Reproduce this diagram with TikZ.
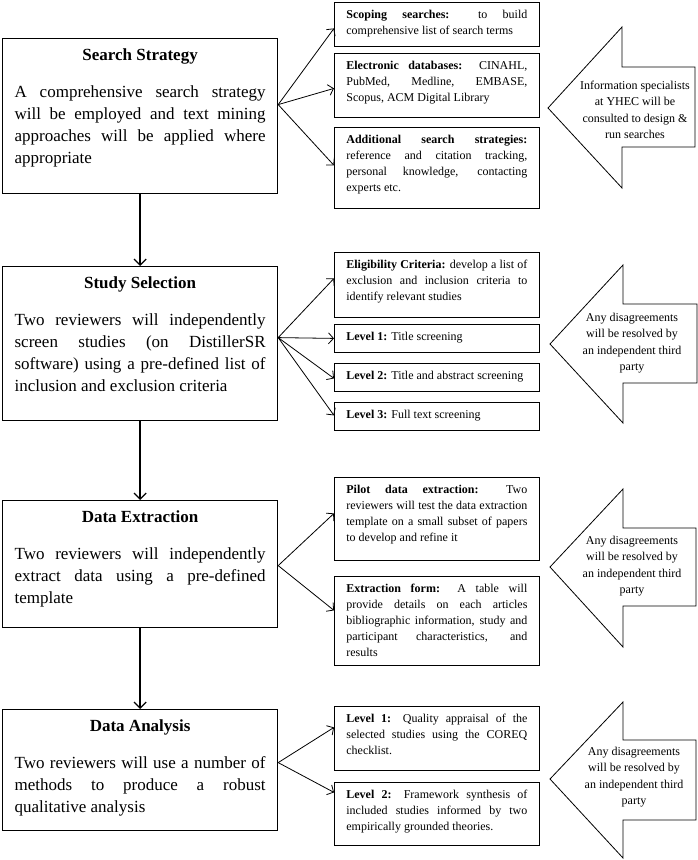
\documentclass[tikz,border=0pt]{standalone}
\usepackage{fontspec}
\setmainfont{Liberation Serif}
\usetikzlibrary{arrows.meta}

\newcommand{\stagetext}[3]{\parbox[t][#1][t]{251pt}{{\centering\strut\textbf{#2}\par}\vspace{15pt}#3}}
\newcommand{\detailtext}[2]{\parbox[t][#1][t]{181pt}{\strut #2}}

\tikzset{
  stage/.style={draw, line width=1.2pt, anchor=north west, inner xsep=12pt, inner ysep=6pt, font=\fontsize{17}{22}\selectfont},
  detail/.style={draw, line width=0.8pt, anchor=north west, inner xsep=12pt, inner ysep=5pt, font=\fontsize{12}{16}\selectfont},
  note/.style={align=center, font=\fontsize{12}{16.5}\selectfont},
  link/.style={-{Straight Barb[length=5pt,width=11pt]}, line width=0.8pt},
  flow/.style={-{Straight Barb[length=6pt,width=12pt]}, line width=1.3pt},
  bigarrow/.style={draw, line width=0.8pt}
}

\begin{document}
\begin{tikzpicture}[x=1pt,y=-1pt]
    \useasboundingbox (0,0) rectangle (698,860);

    % main stages
    \node[stage] (search) at (2,38) {\stagetext{143pt}{Search Strategy}{A comprehensive search strategy\linebreak will be employed and text mining\linebreak approaches will be applied where\linebreak appropriate}};
    \node[stage] (selection) at (2,266) {\stagetext{142pt}{Study Selection}{Two reviewers will independently\linebreak screen studies (on DistillerSR\linebreak software) using a pre-defined list of\linebreak inclusion and exclusion criteria}};
    \node[stage] (extraction) at (2,500) {\stagetext{115pt}{Data Extraction}{Two reviewers will independently\linebreak extract data using a pre-defined\linebreak template}};
    \node[stage] (analysis) at (2,709) {\stagetext{109pt}{Data Analysis}{Two reviewers will use a number of\linebreak methods to produce a robust\linebreak qualitative analysis}};

    \draw[flow] (search.south) -- (selection.north);
    \draw[flow] (selection.south) -- (extraction.north);
    \draw[flow] (extraction.south) -- (analysis.north);

    % search strategy details
    \node[detail] (scoping) at (334,2) {\detailtext{34pt}{\textbf{Scoping searches:} to build\linebreak comprehensive list of search terms}};
    \node[detail] (databases) at (334,53) {\detailtext{54pt}{\textbf{Electronic databases:} CINAHL,\linebreak PubMed, Medline, EMBASE,\linebreak Scopus, ACM Digital Library}};
    \node[detail] (additional) at (334,127) {\detailtext{71pt}{\textbf{Additional search strategies:}\linebreak reference and citation tracking,\linebreak personal knowledge, contacting\linebreak experts etc.}};

    \draw[link] ([yshift=11.5pt]search.east) -- ([yshift=-4pt]scoping.west);
    \draw[link] ([yshift=11.5pt]search.east) -- ([yshift=-3pt]databases.west);
    \draw[link] ([yshift=11.5pt]search.east) -- ([yshift=2.5pt]additional.west);

    % study selection details
    \node[detail] (eligibility) at (334,252) {\detailtext{55pt}{\textbf{Eligibility Criteria:} develop a list of\linebreak exclusion and inclusion criteria to\linebreak identify relevant studies}};
    \node[detail] (levelone) at (334,324) {\detailtext{18pt}{\textbf{Level 1:} Title screening}};
    \node[detail] (leveltwo) at (334,363) {\detailtext{18pt}{\textbf{Level 2:} Title and abstract screening}};
    \node[detail] (levelthree) at (334,402) {\detailtext{18pt}{\textbf{Level 3:} Full text screening}};

    \draw[link] ([yshift=6pt]selection.east) -- ([yshift=6.5pt]eligibility.west);
    \draw[link] ([yshift=6pt]selection.east) -- (levelone.west);
    \draw[link] ([yshift=6pt]selection.east) -- ([yshift=-1pt]leveltwo.west);
    \draw[link] ([yshift=6pt]selection.east) -- ([yshift=1pt]levelthree.west);

    % data extraction details
    \node[detail] (pilot) at (334,477) {\detailtext{73pt}{\textbf{Pilot data extraction:} Two\linebreak reviewers will test the data extraction\linebreak template on a small subset of papers\linebreak to develop and refine it}};
    \node[detail] (form) at (334,576) {\detailtext{79pt}{\textbf{Extraction form:} A table will\linebreak provide details on each articles\linebreak bibliographic information, study and\linebreak participant characteristics, and\linebreak results}};

    \draw[link] ([yshift=-1.5pt]extraction.east) -- ([yshift=5.5pt]pilot.west);
    \draw[link] ([yshift=-1.5pt]extraction.east) -- ([yshift=10.5pt]form.west);

    % data analysis details
    \node[detail] (quality) at (334,706) {\detailtext{54pt}{\textbf{Level 1:} Quality appraisal of the\linebreak selected studies using the COREQ\linebreak checklist.}};
    \node[detail] (synthesis) at (334,782) {\detailtext{53pt}{\textbf{Level 2:} Framework synthesis of\linebreak included studies informed by two\linebreak empirically grounded theories.}};

    \draw[link] ([yshift=7.5pt]analysis.east) -- ([yshift=11pt]quality.west);
    \draw[link] ([yshift=7.5pt]analysis.east) -- ([yshift=21.5pt]synthesis.west);

    % block arrows
    \draw[bigarrow] (548,108) -- (622,27) -- (622,67) -- (695,67) -- (695,147) -- (622,147) -- (622,188) -- cycle;
    \node[note] (specialists) at (635,110) {Information specialists\\at YHEC will be\\consulted to design \&\\run searches};

    \draw[bigarrow] (550,344) -- (623,265) -- (623,304) -- (697,304) -- (697,383) -- (623,383) -- (623,423) -- cycle;
    \node[note] (resolveselection) at (632,343) {Any disagreements\\will be resolved by\\an independent third\\party};

    \draw[bigarrow] (550,567) -- (623,489) -- (623,528) -- (696,528) -- (696,606) -- (623,606) -- (623,647) -- cycle;
    \node[note] (resolveextraction) at (632,566) {Any disagreements\\will be resolved by\\an independent third\\party};

    \draw[bigarrow] (550,779) -- (623,702) -- (623,740) -- (696,740) -- (696,820) -- (623,820) -- (623,858) -- cycle;
    \node[note] (resolveanalysis) at (634,777) {Any disagreements\\will be resolved by\\an independent third\\party};
\end{tikzpicture}
\end{document}
